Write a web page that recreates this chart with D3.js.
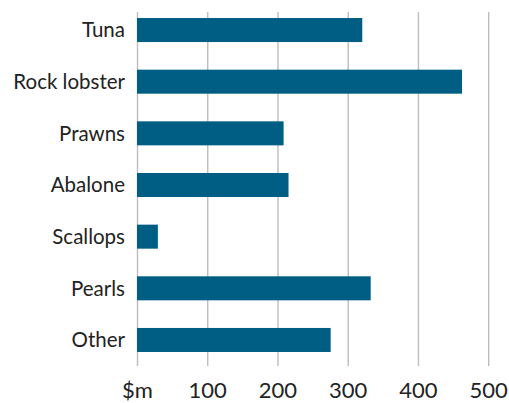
<!DOCTYPE html>
<html>
<head>
<meta charset="utf-8">
<script src="https://cdn.jsdelivr.net/npm/d3@7"></script>
<style>
  body { margin: 0; background: #fff; }
  svg text { font-family: Lato, "Open Sans", sans-serif; font-weight: 400; fill: #222; }
</style>
</head>
<body>
<svg id="chart" width="509" height="403"></svg>
<script>
// chart values ($m)
var categories = ["Tuna", "Rock lobster", "Prawns", "Abalone", "Scallops", "Pearls", "Other"];
var values = [320, 462, 208, 215, 29, 332, 275];
var tickValues = [0, 100, 200, 300, 400, 500];
var tickLabels = ["$m", "100", "200", "300", "400", "500"];

var svg = d3.select("svg#chart");

// scales
var x = d3.scaleLinear().domain([0, 500]).range([137.5, 488.7]);
var y = d3.scaleBand()
  .domain(categories)
  .range([4.2, 365.8])
  .paddingInner(0.535)
  .paddingOuter(0.2675);

// gridlines
svg.append("g")
  .selectAll("line")
  .data(tickValues)
  .enter()
  .append("line")
  .attr("x1", function (d) { return x(d); })
  .attr("x2", function (d) { return x(d); })
  .attr("y1", 12)
  .attr("y2", 366)
  .attr("stroke", "#bdbdbd")
  .attr("stroke-width", 1.4);

// bars
svg.append("g")
  .selectAll("rect")
  .data(values)
  .enter()
  .append("rect")
  .attr("x", x(0) - 0.5)
  .attr("y", function (d, i) { return y(categories[i]); })
  .attr("width", function (d) { return x(d) - x(0) + 0.5; })
  .attr("height", y.bandwidth())
  .attr("fill", "#005e85");

// category labels
svg.append("g")
  .selectAll("text")
  .data(categories)
  .enter()
  .append("text")
  .attr("x", 125)
  .attr("y", function (d) { return y(d) + y.bandwidth() / 2; })
  .attr("dy", "0.36em")
  .attr("text-anchor", "end")
  .style("font-size", "20.5px")
  .text(function (d) { return d; });

// x tick labels
svg.append("g")
  .selectAll("text")
  .data(tickValues)
  .enter()
  .append("text")
  .attr("x", function (d) { return x(d); })
  .attr("y", 398)
  .attr("text-anchor", "middle")
  .style("font-size", "22px")
  .text(function (d, i) { return tickLabels[i]; });
</script>
</body>
</html>
